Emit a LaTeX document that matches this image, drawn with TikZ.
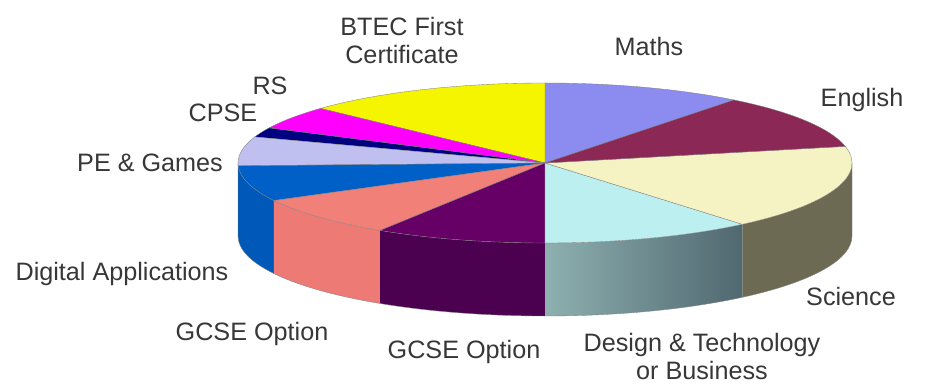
\documentclass[tikz,border=0pt]{standalone}
\usepackage{fontspec}
\setmainfont{Liberation Sans}
\usepackage{tikz}
\usetikzlibrary{positioning}

\definecolor{mathstop}{RGB}{140,140,240}
\definecolor{englishtop}{RGB}{140,40,85}
\definecolor{sciencetop}{RGB}{245,242,195}
\definecolor{scienceside}{RGB}{108,106,82}
\definecolor{dttop}{RGB}{188,240,240}
\definecolor{dtsidel}{RGB}{142,176,176}
\definecolor{dtsider}{RGB}{80,104,112}
\definecolor{gcsebtop}{RGB}{102,0,102}
\definecolor{gcsebside}{RGB}{75,0,80}
\definecolor{gcseatop}{RGB}{240,128,120}
\definecolor{gcseaside}{RGB}{238,122,118}
\definecolor{digitop}{RGB}{0,96,200}
\definecolor{digiside}{RGB}{0,88,184}
\definecolor{petop}{RGB}{192,192,240}
\definecolor{cpsetop}{RGB}{0,0,128}
\definecolor{rstop}{RGB}{255,0,255}
\definecolor{btectop}{RGB}{245,245,0}
\definecolor{textgray}{RGB}{55,55,55}

\begin{document}
\begin{tikzpicture}[
    piename/.style={text=textgray, font=\fontsize{21.5}{24}\selectfont, align=center, inner sep=0pt, anchor=base},
    rim/.style={draw=black!50, line width=0.3pt}]
    \useasboundingbox (0,0) rectangle (28.17,11.55);
    \def\rx{9.21}
    \def\ry{2.40}
    \def\dep{2.19}

    \begin{scope}[shift={(16.35,6.66)}]
    % Sides
    \foreach \a/\b/\c in {180/208/digiside, 208/237.5/gcseaside, 237.5/270/gcsebside, 310/360/scienceside}
        \fill[\c] ({\rx*cos(\a)},{\ry*sin(\a)}) arc[start angle=\a, end angle=\b, x radius=\rx, y radius=\ry]
            -- ++(0,-\dep) arc[start angle=\b, end angle=\a, x radius=\rx, y radius=\ry] -- cycle;
    \shade[left color=dtsidel, right color=dtsider] (0,-\ry)
        arc[start angle=270, end angle=310, x radius=\rx, y radius=\ry]
        -- ++(0,-\dep) arc[start angle=310, end angle=270, x radius=\rx, y radius=\ry] -- cycle;
    \draw[rim] (-\rx,0) -- ++(0,-\dep)
        arc[start angle=180, end angle=360, x radius=\rx, y radius=\ry] -- ++(0,\dep);

    % Top
    \foreach \a/\b/\c in {52/90/mathstop, 90/137/btectop, 137/154/rstop, 154/161/cpsetop,
                          161/182/petop, 182/208/digitop, 208/237.5/gcseatop, 237.5/270/gcsebtop,
                          270/310/dttop, 310/372/sciencetop, 372/412/englishtop}
        \filldraw[fill=\c, rim] (0,0) -- ({\rx*cos(\a)},{\ry*sin(\a)})
            arc[start angle=\a, end angle=\b, x radius=\rx, y radius=\ry] -- cycle;
    \end{scope}

    % Labels
    \node[piename] (btec) at (12.06,9.63) {BTEC First\\Certificate};
    \node[piename] (maths) at (19.47,9.87) {Maths};
    \node[piename] (english) at (25.86,8.34) {English};
    \node[piename] (science) at (25.53,2.37) {Science};
    \node[piename] (dt) at (21.06,0.16) {Design \& Technology\\or Business};
    \node[piename] (gcseb) at (13.92,0.78) {GCSE Option};
    \node[piename] (gcsea) at (7.56,1.32) {GCSE Option};
    \node[piename] (digital) at (3.66,3.12) {Digital Applications};
    \node[piename] (pe) at (4.50,6.39) {PE \& Games};
    \node[piename] (cpse) at (6.69,7.89) {CPSE};
    \node[piename] (rs) at (8.10,8.70) {RS};
\end{tikzpicture}
\end{document}
